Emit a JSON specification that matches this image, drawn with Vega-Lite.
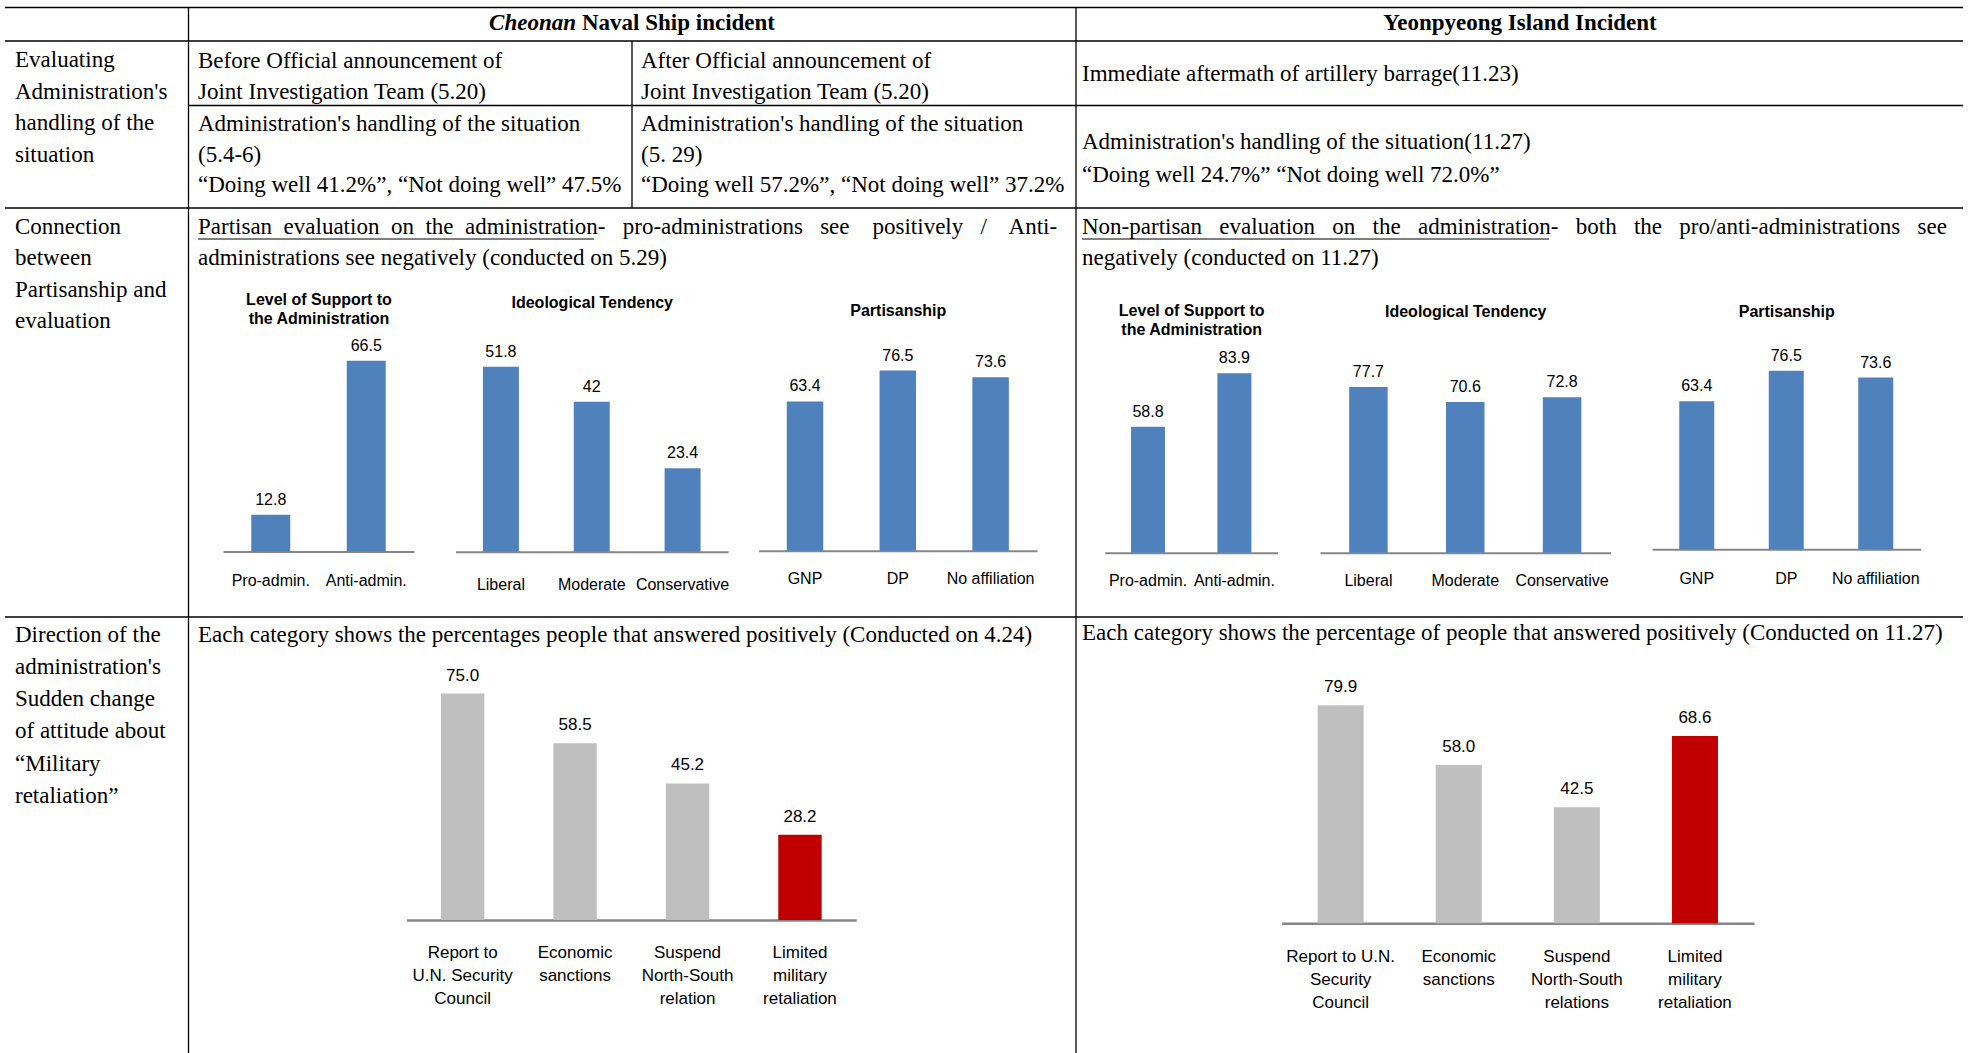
{
  "$schema": "https://vega.github.io/schema/vega-lite/v6.json",
  "width": 1975,
  "height": 1053,
  "padding": 0,
  "autosize": "none",
  "background": "white",
  "config": {
    "view": {"stroke": null},
    "axis": {
      "domainColor": "#868686",
      "domainWidth": 2,
      "ticks": false,
      "tickSize": 0,
      "grid": false,
      "labelFont": "Liberation Sans",
      "labelFontSize": 16,
      "labelColor": "#000000",
      "labelAngle": 0,
      "labelBaseline": "alphabetic",
      "labelOverlap": false,
      "labelBound": false,
      "labelFlush": false,
      "labelLimit": 0,
      "titleFont": "Liberation Sans",
      "titleFontSize": 16,
      "titleFontWeight": "bold",
      "titleColor": "#000000",
      "titleBaseline": "alphabetic",
      "titleLineHeight": 19
    }
  },
  "datasets": {
    "bars": [
      {"chart": "c-support", "category": "Pro-admin.", "pct": 12.8},
      {"chart": "c-support", "category": "Anti-admin.", "pct": 66.5},
      {"chart": "c-ideology", "category": "Liberal", "pct": 51.8},
      {"chart": "c-ideology", "category": "Moderate", "pct": 42},
      {"chart": "c-ideology", "category": "Conservative", "pct": 23.4},
      {"chart": "c-party", "category": "GNP", "pct": 63.4},
      {"chart": "c-party", "category": "DP", "pct": 76.5},
      {"chart": "c-party", "category": "No affiliation", "pct": 73.6},
      {"chart": "y-support", "category": "Pro-admin.", "pct": 58.8},
      {"chart": "y-support", "category": "Anti-admin.", "pct": 83.9},
      {"chart": "y-ideology", "category": "Liberal", "pct": 77.7},
      {"chart": "y-ideology", "category": "Moderate", "pct": 70.6},
      {"chart": "y-ideology", "category": "Conservative", "pct": 72.8},
      {"chart": "y-party", "category": "GNP", "pct": 63.4},
      {"chart": "y-party", "category": "DP", "pct": 76.5},
      {"chart": "y-party", "category": "No affiliation", "pct": 73.6},
      {"chart": "c-response", "category": "Report to|U.N. Security|Council", "pct": 75.0},
      {"chart": "c-response", "category": "Economic|sanctions", "pct": 58.5},
      {"chart": "c-response", "category": "Suspend|North-South|relation", "pct": 45.2},
      {"chart": "c-response", "category": "Limited|military|retaliation", "pct": 28.2},
      {"chart": "y-response", "category": "Report to U.N.|Security|Council", "pct": 79.9},
      {"chart": "y-response", "category": "Economic|sanctions", "pct": 58.0},
      {"chart": "y-response", "category": "Suspend|North-South|relations", "pct": 42.5},
      {"chart": "y-response", "category": "Limited|military|retaliation", "pct": 68.6}
    ],
    "cells": [
      {"cell": "eval", "lines": ["Evaluating", "Administration's", "handling of the", "situation"]},
      {"cell": "before", "lines": ["Before Official announcement of", "Joint Investigation Team (5.20)"]},
      {"cell": "after", "lines": ["After Official announcement of", "Joint Investigation Team (5.20)"]},
      {"cell": "immediate", "lines": ["Immediate aftermath of artillery barrage(11.23)"]},
      {"cell": "handling-before", "lines": ["Administration's handling of the situation", "(5.4-6)", "“Doing well 41.2%”, “Not doing well” 47.5%"]},
      {"cell": "handling-after", "lines": ["Administration's handling of the situation", "(5. 29)", "“Doing well 57.2%”, “Not doing well” 37.2%"]},
      {"cell": "handling-yeon", "lines": ["Administration's handling of the situation(11.27)", "“Doing well 24.7%” “Not doing well 72.0%”"]},
      {"cell": "connection", "lines": ["Connection", "between", "Partisanship and", "evaluation"]},
      {"cell": "partisan", "lines": ["Partisan\u00a0 evaluation\u00a0 on\u00a0 the\u00a0 administration-\u00a0\u00a0 pro-administrations\u00a0\u00a0 see\u00a0\u00a0\u00a0 positively\u00a0\u00a0 /\u00a0\u00a0\u00a0 Anti-", "administrations see negatively (conducted on 5.29)"]},
      {"cell": "nonpartisan", "lines": ["Non-partisan\u00a0\u00a0 evaluation\u00a0\u00a0 on\u00a0\u00a0 the\u00a0\u00a0 administration-\u00a0\u00a0 both\u00a0\u00a0 the\u00a0\u00a0 pro/anti-administrations\u00a0\u00a0 see", "negatively (conducted on 11.27)"]},
      {"cell": "direction", "lines": ["Direction of the", "administration's", "Sudden change", "of attitude about", "“Military", "retaliation”"]},
      {"cell": "each-cheonan", "lines": ["Each category shows the percentages people that answered positively (Conducted on 4.24)"]},
      {"cell": "each-yeon", "lines": ["Each category shows the percentage of people that answered positively (Conducted on 11.27)"]},
      {"cell": "head-italic", "lines": ["Cheonan"]},
      {"cell": "head-rest", "lines": ["Naval Ship incident"]},
      {"cell": "head-yeon", "lines": ["Yeonpyeong Island Incident"]}
    ]
  },
  "resolve": {
    "scale": {"x": "independent", "y": "independent"},
    "axis": {"x": "independent", "y": "independent"}
  },
  "layer": [
    {"data": {"values": [{}]}, "mark": {"type": "rule", "stroke": "#000000", "strokeWidth": 1.3}, "encoding": {"x": {"value": 5}, "x2": {"value": 1963}, "y": {"value": 7.5}}},
    {"data": {"values": [{}]}, "mark": {"type": "rule", "stroke": "#000000", "strokeWidth": 1.3}, "encoding": {"x": {"value": 5}, "x2": {"value": 1963}, "y": {"value": 41}}},
    {"data": {"values": [{}]}, "mark": {"type": "rule", "stroke": "#000000", "strokeWidth": 1.3}, "encoding": {"x": {"value": 188.5}, "x2": {"value": 1963}, "y": {"value": 105.5}}},
    {"data": {"values": [{}]}, "mark": {"type": "rule", "stroke": "#000000", "strokeWidth": 1.3}, "encoding": {"x": {"value": 5}, "x2": {"value": 1963}, "y": {"value": 208}}},
    {"data": {"values": [{}]}, "mark": {"type": "rule", "stroke": "#000000", "strokeWidth": 1.3}, "encoding": {"x": {"value": 5}, "x2": {"value": 1963}, "y": {"value": 617}}},
    {"data": {"values": [{}]}, "mark": {"type": "rule", "stroke": "#000000", "strokeWidth": 1.3}, "encoding": {"x": {"value": 188.5}, "y": {"value": 7.5}, "y2": {"value": 1053}}},
    {"data": {"values": [{}]}, "mark": {"type": "rule", "stroke": "#000000", "strokeWidth": 1.3}, "encoding": {"x": {"value": 1076}, "y": {"value": 7.5}, "y2": {"value": 1053}}},
    {"data": {"values": [{}]}, "mark": {"type": "rule", "stroke": "#000000", "strokeWidth": 1.3}, "encoding": {"x": {"value": 632}, "y": {"value": 41}, "y2": {"value": 208}}},
    {"data": {"values": [{}]}, "mark": {"type": "rule", "stroke": "#000000", "strokeWidth": 1.2}, "encoding": {"x": {"value": 198}, "x2": {"value": 594}, "y": {"value": 239}}},
    {"data": {"values": [{}]}, "mark": {"type": "rule", "stroke": "#000000", "strokeWidth": 1.2}, "encoding": {"x": {"value": 1082}, "x2": {"value": 1549}, "y": {"value": 239}}},

    {"data": {"name": "cells"}, "transform": [{"filter": "datum.cell === 'head-italic'"}],
     "mark": {"type": "text", "align": "right", "baseline": "alphabetic", "font": "Liberation Serif", "fontSize": 23, "fontWeight": "bold", "fontStyle": "italic"},
     "encoding": {"x": {"value": 576}, "y": {"value": 30}, "text": {"field": "lines", "type": "nominal"}}},
    {"data": {"name": "cells"}, "transform": [{"filter": "datum.cell === 'head-rest'"}],
     "mark": {"type": "text", "align": "left", "baseline": "alphabetic", "font": "Liberation Serif", "fontSize": 23, "fontWeight": "bold"},
     "encoding": {"x": {"value": 582}, "y": {"value": 30}, "text": {"field": "lines", "type": "nominal"}}},
    {"data": {"name": "cells"}, "transform": [{"filter": "datum.cell === 'head-yeon'"}],
     "mark": {"type": "text", "align": "center", "baseline": "alphabetic", "font": "Liberation Serif", "fontSize": 23, "fontWeight": "bold"},
     "encoding": {"x": {"value": 1520}, "y": {"value": 30}, "text": {"field": "lines", "type": "nominal"}}},
    {"data": {"name": "cells"}, "transform": [{"filter": "datum.cell === 'eval'"}],
     "mark": {"type": "text", "align": "left", "baseline": "alphabetic", "font": "Liberation Serif", "fontSize": 23, "lineHeight": 31.5},
     "encoding": {"x": {"value": 15}, "y": {"value": 67}, "text": {"field": "lines", "type": "nominal"}}},
    {"data": {"name": "cells"}, "transform": [{"filter": "datum.cell === 'before'"}],
     "mark": {"type": "text", "align": "left", "baseline": "alphabetic", "font": "Liberation Serif", "fontSize": 23, "lineHeight": 31},
     "encoding": {"x": {"value": 198}, "y": {"value": 68}, "text": {"field": "lines", "type": "nominal"}}},
    {"data": {"name": "cells"}, "transform": [{"filter": "datum.cell === 'after'"}],
     "mark": {"type": "text", "align": "left", "baseline": "alphabetic", "font": "Liberation Serif", "fontSize": 23, "lineHeight": 31},
     "encoding": {"x": {"value": 641}, "y": {"value": 68}, "text": {"field": "lines", "type": "nominal"}}},
    {"data": {"name": "cells"}, "transform": [{"filter": "datum.cell === 'immediate'"}],
     "mark": {"type": "text", "align": "left", "baseline": "alphabetic", "font": "Liberation Serif", "fontSize": 23},
     "encoding": {"x": {"value": 1082}, "y": {"value": 81}, "text": {"field": "lines", "type": "nominal"}}},
    {"data": {"name": "cells"}, "transform": [{"filter": "datum.cell === 'handling-before'"}],
     "mark": {"type": "text", "align": "left", "baseline": "alphabetic", "font": "Liberation Serif", "fontSize": 23, "lineHeight": 30.7},
     "encoding": {"x": {"value": 198}, "y": {"value": 131}, "text": {"field": "lines", "type": "nominal"}}},
    {"data": {"name": "cells"}, "transform": [{"filter": "datum.cell === 'handling-after'"}],
     "mark": {"type": "text", "align": "left", "baseline": "alphabetic", "font": "Liberation Serif", "fontSize": 23, "lineHeight": 30.7},
     "encoding": {"x": {"value": 641}, "y": {"value": 131}, "text": {"field": "lines", "type": "nominal"}}},
    {"data": {"name": "cells"}, "transform": [{"filter": "datum.cell === 'handling-yeon'"}],
     "mark": {"type": "text", "align": "left", "baseline": "alphabetic", "font": "Liberation Serif", "fontSize": 23, "lineHeight": 32.5},
     "encoding": {"x": {"value": 1082}, "y": {"value": 149}, "text": {"field": "lines", "type": "nominal"}}},
    {"data": {"name": "cells"}, "transform": [{"filter": "datum.cell === 'connection'"}],
     "mark": {"type": "text", "align": "left", "baseline": "alphabetic", "font": "Liberation Serif", "fontSize": 23, "lineHeight": 31.5},
     "encoding": {"x": {"value": 15}, "y": {"value": 233.5}, "text": {"field": "lines", "type": "nominal"}}},
    {"data": {"name": "cells"}, "transform": [{"filter": "datum.cell === 'partisan'"}],
     "mark": {"type": "text", "align": "left", "baseline": "alphabetic", "font": "Liberation Serif", "fontSize": 23, "lineHeight": 31},
     "encoding": {"x": {"value": 198}, "y": {"value": 233.5}, "text": {"field": "lines", "type": "nominal"}}},
    {"data": {"name": "cells"}, "transform": [{"filter": "datum.cell === 'nonpartisan'"}],
     "mark": {"type": "text", "align": "left", "baseline": "alphabetic", "font": "Liberation Serif", "fontSize": 23, "lineHeight": 31},
     "encoding": {"x": {"value": 1082}, "y": {"value": 233.5}, "text": {"field": "lines", "type": "nominal"}}},
    {"data": {"name": "cells"}, "transform": [{"filter": "datum.cell === 'direction'"}],
     "mark": {"type": "text", "align": "left", "baseline": "alphabetic", "font": "Liberation Serif", "fontSize": 23, "lineHeight": 32.3},
     "encoding": {"x": {"value": 15}, "y": {"value": 641.5}, "text": {"field": "lines", "type": "nominal"}}},
    {"data": {"name": "cells"}, "transform": [{"filter": "datum.cell === 'each-cheonan'"}],
     "mark": {"type": "text", "align": "left", "baseline": "alphabetic", "font": "Liberation Serif", "fontSize": 23},
     "encoding": {"x": {"value": 198}, "y": {"value": 641.5}, "text": {"field": "lines", "type": "nominal"}}},
    {"data": {"name": "cells"}, "transform": [{"filter": "datum.cell === 'each-yeon'"}],
     "mark": {"type": "text", "align": "left", "baseline": "alphabetic", "font": "Liberation Serif", "fontSize": 23},
     "encoding": {"x": {"value": 1082}, "y": {"value": 640}, "text": {"field": "lines", "type": "nominal"}}},

    {"data": {"name": "bars"}, "transform": [{"filter": "datum.chart === 'c-support'"}],
     "encoding": {
       "x": {"field": "category", "type": "nominal", "sort": null,
             "scale": {"range": [223, 414], "paddingInner": 0.592, "paddingOuter": 0.296},
             "axis": {"orient": "bottom", "offset": -501.5, "labelPadding": 34, "title": ["Level of Support to", "the Administration"], "titleY": -247}},
       "y": {"field": "pct", "type": "quantitative", "scale": {"domain": [0, 80], "range": [551.5, 321.9], "nice": false}, "axis": null}
     },
     "layer": [
       {"mark": {"type": "bar", "color": "#4F81BD"}},
       {"mark": {"type": "text", "dy": -10, "baseline": "alphabetic", "font": "Liberation Sans", "fontSize": 16, "color": "#000000"}, "encoding": {"text": {"field": "pct", "type": "quantitative"}}}
     ]},
    {"data": {"name": "bars"}, "transform": [{"filter": "datum.chart === 'c-ideology'"}],
     "encoding": {
       "x": {"field": "category", "type": "nominal", "sort": null,
             "scale": {"range": [455.5, 728], "paddingInner": 0.604, "paddingOuter": 0.302},
             "axis": {"orient": "bottom", "offset": -501.3, "labelPadding": 37.5, "title": "Ideological Tendency", "titleY": -244}},
       "y": {"field": "pct", "type": "quantitative", "scale": {"domain": [0, 60], "range": [551.7, 337.5], "nice": false}, "axis": null}
     },
     "layer": [
       {"mark": {"type": "bar", "color": "#4F81BD"}},
       {"mark": {"type": "text", "dy": -10, "baseline": "alphabetic", "font": "Liberation Sans", "fontSize": 16, "color": "#000000"}, "encoding": {"text": {"field": "pct", "type": "quantitative"}}}
     ]},
    {"data": {"name": "bars"}, "transform": [{"filter": "datum.chart === 'c-party'"}],
     "encoding": {
       "x": {"field": "category", "type": "nominal", "sort": null,
             "scale": {"range": [758.6, 1037], "paddingInner": 0.607, "paddingOuter": 0.3035},
             "axis": {"orient": "bottom", "offset": -502.3, "labelPadding": 32.5, "title": "Partisanship", "titleY": -235.7}},
       "y": {"field": "pct", "type": "quantitative", "scale": {"domain": [0, 90], "range": [550.7, 338.75], "nice": false}, "axis": null}
     },
     "layer": [
       {"mark": {"type": "bar", "color": "#4F81BD"}},
       {"mark": {"type": "text", "dy": -10, "baseline": "alphabetic", "font": "Liberation Sans", "fontSize": 16, "color": "#000000"}, "encoding": {"text": {"field": "pct", "type": "quantitative"}}}
     ]},
    {"data": {"name": "bars"}, "transform": [{"filter": "datum.chart === 'y-support'"}],
     "encoding": {
       "x": {"field": "category", "type": "nominal", "sort": null,
             "scale": {"range": [1104.8, 1277.6], "paddingInner": 0.606, "paddingOuter": 0.303},
             "axis": {"orient": "bottom", "offset": -500.3, "labelPadding": 33, "title": ["Level of Support to", "the Administration"], "titleY": -237}},
       "y": {"field": "pct", "type": "quantitative", "scale": {"domain": [0, 100], "range": [552.7, 338.7], "nice": false}, "axis": null}
     },
     "layer": [
       {"mark": {"type": "bar", "color": "#4F81BD"}},
       {"mark": {"type": "text", "dy": -10, "baseline": "alphabetic", "font": "Liberation Sans", "fontSize": 16, "color": "#000000"}, "encoding": {"text": {"field": "pct", "type": "quantitative"}}}
     ]},
    {"data": {"name": "bars"}, "transform": [{"filter": "datum.chart === 'y-ideology'"}],
     "encoding": {
       "x": {"field": "category", "type": "nominal", "sort": null,
             "scale": {"range": [1320, 1610.5], "paddingInner": 0.602, "paddingOuter": 0.301},
             "axis": {"orient": "bottom", "offset": -500.3, "labelPadding": 33, "title": "Ideological Tendency", "titleY": -236.7}},
       "y": {"field": "pct", "type": "quantitative", "scale": {"domain": [0, 100], "range": [552.7, 339.3], "nice": false}, "axis": null}
     },
     "layer": [
       {"mark": {"type": "bar", "color": "#4F81BD"}},
       {"mark": {"type": "text", "dy": -10, "baseline": "alphabetic", "font": "Liberation Sans", "fontSize": 16, "color": "#000000"}, "encoding": {"text": {"field": "pct", "type": "quantitative"}}}
     ]},
    {"data": {"name": "bars"}, "transform": [{"filter": "datum.chart === 'y-party'"}],
     "encoding": {
       "x": {"field": "category", "type": "nominal", "sort": null,
             "scale": {"range": [1652, 1920.5], "paddingInner": 0.609, "paddingOuter": 0.3045},
             "axis": {"orient": "bottom", "offset": -503.7, "labelPadding": 34, "title": "Partisanship", "titleY": -233.3}},
       "y": {"field": "pct", "type": "quantitative", "scale": {"domain": [0, 90], "range": [549.3, 339.3], "nice": false}, "axis": null}
     },
     "layer": [
       {"mark": {"type": "bar", "color": "#4F81BD"}},
       {"mark": {"type": "text", "dy": -10, "baseline": "alphabetic", "font": "Liberation Sans", "fontSize": 16, "color": "#000000"}, "encoding": {"text": {"field": "pct", "type": "quantitative"}}}
     ]},
    {"data": {"name": "bars"}, "transform": [{"filter": "datum.chart === 'c-response'"}],
     "encoding": {
       "x": {"field": "category", "type": "nominal", "sort": null,
             "scale": {"range": [406.4, 856.2], "paddingInner": 0.614, "paddingOuter": 0.307},
             "axis": {"orient": "bottom", "offset": -133, "labelPadding": 37, "labelFontSize": 17, "labelLineHeight": 23.3, "labelExpr": "split(datum.label, '|')", "domainWidth": 2.5, "title": null}},
       "y": {"field": "pct", "type": "quantitative", "scale": {"domain": [0, 80], "range": [920, 678.4], "nice": false}, "axis": null}
     },
     "layer": [
       {"mark": {"type": "bar"}, "encoding": {"color": {"condition": {"test": "datum.category === 'Limited|military|retaliation'", "value": "#C00000"}, "value": "#BFBFBF"}}},
       {"mark": {"type": "text", "dy": -13, "baseline": "alphabetic", "font": "Liberation Sans", "fontSize": 17, "color": "#000000"}, "encoding": {"text": {"field": "pct", "type": "quantitative", "format": ".1f"}}}
     ]},
    {"data": {"name": "bars"}, "transform": [{"filter": "datum.chart === 'y-response'"}],
     "encoding": {
       "x": {"field": "category", "type": "nominal", "sort": null,
             "scale": {"range": [1281.6, 1754], "paddingInner": 0.61, "paddingOuter": 0.305},
             "axis": {"orient": "bottom", "offset": -129.7, "labelPadding": 37.7, "labelFontSize": 17, "labelLineHeight": 23.3, "labelExpr": "split(datum.label, '|')", "domainWidth": 2.5, "title": null}},
       "y": {"field": "pct", "type": "quantitative", "scale": {"domain": [0, 90], "range": [923.3, 677.6], "nice": false}, "axis": null}
     },
     "layer": [
       {"mark": {"type": "bar"}, "encoding": {"color": {"condition": {"test": "datum.category === 'Limited|military|retaliation'", "value": "#C00000"}, "value": "#BFBFBF"}}},
       {"mark": {"type": "text", "dy": -13, "baseline": "alphabetic", "font": "Liberation Sans", "fontSize": 17, "color": "#000000"}, "encoding": {"text": {"field": "pct", "type": "quantitative", "format": ".1f"}}}
     ]}
  ]
}
